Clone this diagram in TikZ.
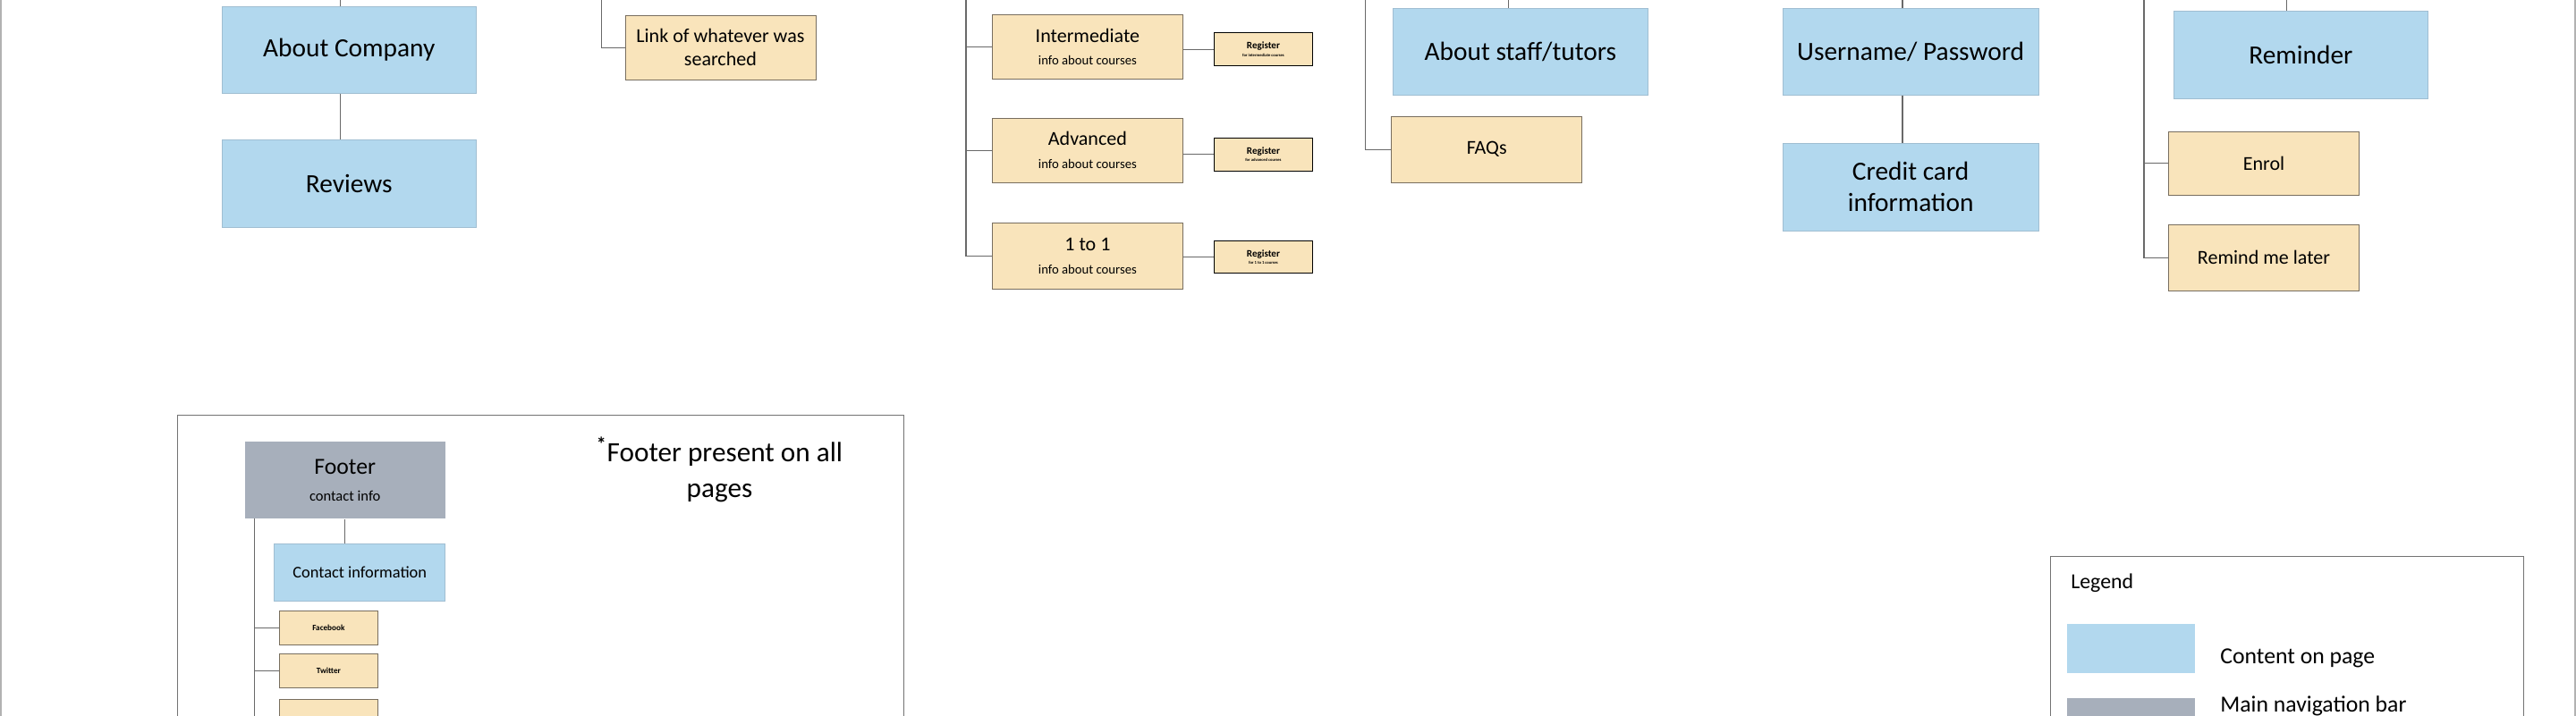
\documentclass[tikz,border=0pt]{standalone}
\usepackage{fontspec}
\setmainfont{Carlito}
\usetikzlibrary{positioning}
\definecolor{contentblue}{RGB}{178,216,238}
\definecolor{contentedge}{RGB}{160,190,210}
\definecolor{pagetan}{RGB}{249,228,187}
\definecolor{pageedge}{RGB}{120,110,95}
\definecolor{navgrey}{RGB}{167,175,187}
\definecolor{wiregrey}{RGB}{105,105,105}
\newcommand{\sz}[2]{\fontsize{#1}{#2}\selectfont}

\begin{document}
\begin{tikzpicture}[
    x=1pt, y=-1pt,
    content/.style={draw=contentedge, fill=contentblue, minimum width=155pt,
                    minimum height=53pt, align=center, inner sep=2pt, font=\sz{16}{19}},
    page/.style={draw=pageedge, fill=pagetan, minimum width=116pt,
                 minimum height=39pt, align=center, inner sep=2pt, font=\sz{12}{14}},
    reg/.style={draw=black, fill=pagetan, minimum width=60pt, minimum height=20pt,
                align=center, inner sep=1pt, font=\sz{6}{6}\bfseries},
    social/.style={draw=pageedge, fill=pagetan, minimum width=60pt, minimum height=21pt,
                   align=center, inner sep=1pt, font=\sz{5}{6}\bfseries},
    nav/.style={draw=none, fill=navgrey, align=center, inner sep=2pt},
    wire/.style={draw=wiregrey, line width=0.6pt},
    panel/.style={draw=black!55, line width=0.7pt},
  ]
  \useasboundingbox (0,0) rectangle (1568,436);
  \fill[white] (0,0) rectangle (1568,436);

  % edges of the sheet
  \draw[draw=black!30, line width=1pt] (0.5,0) -- (0.5,436);
  \draw[draw=black!30, line width=1pt] (1567.5,0) -- (1567.5,436);

  % home column
  \node[content] (about) at (212.5,30.5) {About Company};
  \node[content, below=28pt of about] (reviews) {Reviews};
  \coordinate (homeup) at (207,0);
  \draw[wire] (homeup) -- (homeup |- about.north);
  \draw[wire] (about.south -| homeup) -- (reviews.north -| homeup);

  % search
  \node[page] (found) at (438.5,29) {Link of whatever was\\searched};
  \coordinate (searchup) at (366,0);
  \draw[wire] (searchup) |- (found.west);

  % courses
  \node[page] (inter) at (662,28.5) {Intermediate\\{\sz{8}{9}info about courses}};
  \node[page] (adv) at (662,91.5) {Advanced\\{\sz{8}{9}info about courses}};
  \node[page, minimum height=40pt] (one) at (662,156) {1 to 1\\{\sz{8}{9}info about courses}};
  \node[reg] (reg1) at (769,30) {Register\\[-1.5pt]{\sz{2.5}{3}for intermediate courses}};
  \node[reg] (reg2) at (769,94) {Register\\[-1.5pt]{\sz{2.5}{3}for advanced courses}};
  \node[reg] (reg3) at (769,156.5) {Register\\[-1.5pt]{\sz{2.5}{3}for 1 to 1 courses}};
  \coordinate (courseup) at (588,0);
  \draw[wire] (courseup) |- (inter.west);
  \draw[wire] (courseup) |- (adv.west);
  \draw[wire] (courseup) |- (one.west);
  \draw[wire] (inter.east |- reg1.west) -- (reg1.west);
  \draw[wire] (adv.east |- reg2.west) -- (reg2.west);
  \draw[wire] (one.east |- reg3.west) -- (reg3.west);

  % about us
  \node[content] (staff) at (925.5,31.5) {About staff/tutors};
  \node[page, minimum height=40pt] (faqs) at (905,91) {FAQs};
  \coordinate (staffup) at (918,0);
  \coordinate (faqup) at (831,0);
  \draw[wire] (staffup) -- (staffup |- staff.north);
  \draw[wire] (faqup) |- (faqs.west);

  % log in
  \node[content, minimum width=156pt] (user) at (1163,31.5) {Username/ Password};
  \node[content, minimum width=156pt, below=29pt of user] (card) {Credit card\\information};
  \coordinate (userup) at (1158,0);
  \draw[wire] (userup) -- (userup |- user.north);
  \draw[wire] (user.south -| userup) -- (card.north -| userup);

  % reminder
  \node[content] (remind) at (1400.5,33.5) {Reminder};
  \node[page] (enrol) at (1378,99.5) {Enrol};
  \node[page, minimum height=40pt] (later) at (1378,157) {Remind me later};
  \coordinate (remindup) at (1392,0);
  \coordinate (choiceup) at (1305,0);
  \draw[wire] (remindup) -- (remindup |- remind.north);
  \draw[wire] (choiceup) |- (enrol.west);
  \draw[wire] (choiceup) |- (later.west);

  % footer panel
  \draw[panel] (108,445) -- (108,253) -- (550,253) -- (550,445);
  \node[nav, minimum width=122pt, minimum height=47pt, font=\sz{14}{16}] (footer)
    at (210,292.5) {Footer\\{\sz{9}{10}contact info}};
  \node[content, minimum width=104pt, minimum height=35pt, font=\sz{10}{12}] (contact)
    at (219,348.5) {Contact information};
  \node[social] (facebook) at (200,382.5) {Facebook};
  \node[social] (twitter) at (200,408.5) {Twitter};
  \node[social] (third) at (200,436.5) {};
  \coordinate (footspine) at (155,316);
  \draw[wire] (footer.south) -- (footer.south |- contact.north);
  \draw[wire] (footspine) |- (facebook.west);
  \draw[wire] (footspine) |- (twitter.west);
  \draw[wire] (footspine) |- (third.west);
  \draw[wire] (footspine) -- (155,445);
  \node[align=center, font=\sz{17}{22}] (allpages) at (438,286)
    {\textsuperscript{\bfseries*}Footer present on all\\pages};

  % legend
  \draw[panel] (1248,445) -- (1248,339) -- (1536,339) -- (1536,445);
  \node[anchor=west, font=\sz{13}{15}] (legend) at (1257,355) {Legend};
  \fill[contentblue] (1258,380) rectangle (1336,410);
  \fill[navgrey] (1258,425) rectangle (1336,446);
  \node[anchor=west, font=\sz{14}{16}] (keycontent) at (1348,401) {Content on page};
  \node[anchor=west, font=\sz{14}{16}] (keynav) at (1348,430) {Main navigation bar};
\end{tikzpicture}
\end{document}
